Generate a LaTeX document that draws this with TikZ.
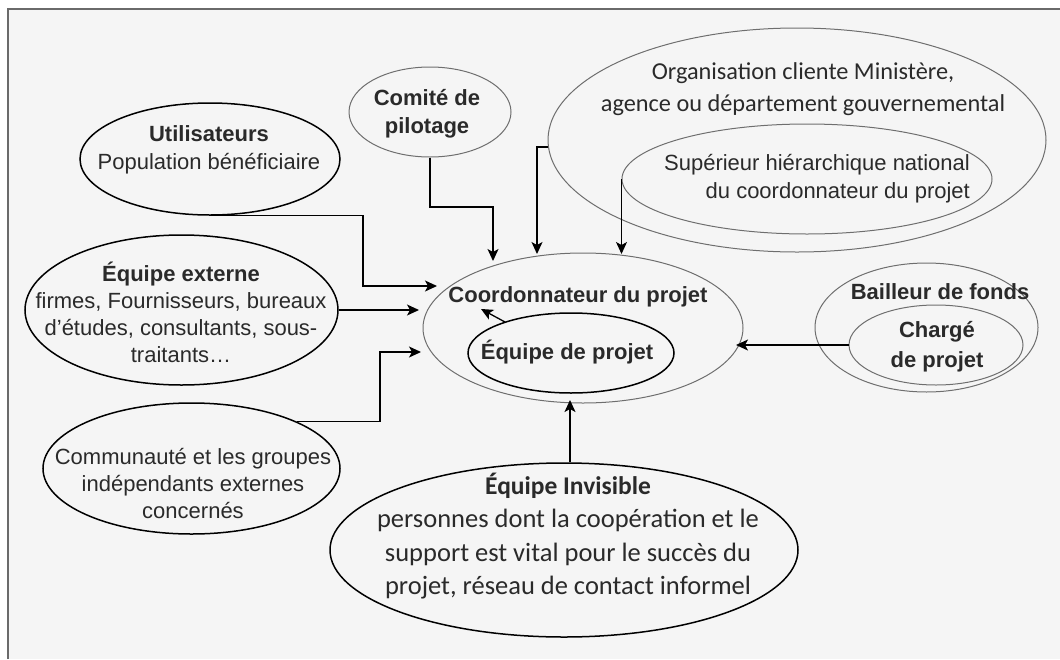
\documentclass[tikz,border=0pt]{standalone}
\usepackage{fontspec}
\setmainfont{Liberation Sans}
\newfontfamily\calib{Carlito}
\usetikzlibrary{shapes.geometric,arrows.meta,calc}
\definecolor{pagebg}{HTML}{F5F5F5}
\definecolor{framec}{HTML}{6A6A6A}
\definecolor{thinring}{HTML}{6E6E6E}
\definecolor{txtc}{HTML}{2A2A2A}
\begin{document}
\begin{tikzpicture}[x=1pt,y=-1pt,
  ringthin/.style={ellipse, draw=thinring, line width=1pt, inner sep=0pt},
  ringbold/.style={ellipse, draw=black, line width=1.5pt, inner sep=0pt},
  lbl/.style={align=center, inner sep=0pt, text=txtc, font=\fontsize{22}{28}\selectfont},
  lblc/.style={align=center, inner sep=0pt, text=txtc, font=\calib\fontsize{24.3}{32.5}\selectfont},
  arr/.style={draw=black, line width=1.3pt, -{Stealth[length=12pt,width=11pt,inset=3pt]}}]

% page, background and frame
\useasboundingbox (0,0) rectangle (1060,659);
\fill[white] (0,0) rectangle (1060,659);
\fill[pagebg] (8,9) rectangle (1060,659);
\draw[framec, line width=1.5pt] (8,659) -- (8,9) -- (1060,9);

% rings
\node[ringthin, minimum width=498pt, minimum height=224pt] (org) at (797,140) {};
\node[ringthin, minimum width=370pt, minimum height=110pt] (sup) at (807,179) {};
\node[ringthin, minimum width=162pt, minimum height=90pt] (com) at (430,112) {};
\node[ringbold, minimum width=260pt, minimum height=112pt] (uti) at (210,159) {};
\node[ringbold, minimum width=313pt, minimum height=150pt] (ext) at (181.5,310) {};
\node[ringbold, minimum width=297pt, minimum height=131pt] (comm) at (191.5,468.5) {};
\node[ringthin, minimum width=320pt, minimum height=150pt] (coord) at (583,328) {};
\node[ringbold, minimum width=206pt, minimum height=80pt] (equipe) at (571,353) {};
\node[ringthin, minimum width=223pt, minimum height=129pt] (bail) at (926.5,327.5) {};
\node[ringthin, minimum width=174pt, minimum height=80pt] (chg) at (936,345) {};
\node[ringbold, minimum width=468pt, minimum height=174pt] (inv) at (564,550) {};

% texts
\node[lbl] (utiT) at (209,150) {\textbf{Utilisateurs}\\Population bénéficiaire};
\node[lbl] (comT) at (427,114) {\textbf{Comité de}\\\textbf{pilotage}};
\node[lblc] (orgT) at (803,89) {Organisation cliente Ministère,\\agence ou département gouvernemental};
\node[lbl, align=right] (supT) at (817,179) {Supérieur hiérarchique national\\du coordonnateur du projet};
\node[lbl, font=\fontsize{22}{27}\selectfont] (extT) at (181,312) {\textbf{Équipe externe}\\firmes, Fournisseurs, bureaux\\d’études, consultants, sous-\\traitants…};
\node[lbl, font=\fontsize{22}{27}\selectfont] (commT) at (193,483.5) {Communauté et les groupes\\indépendants externes\\concernés};
\node[lbl] (coordT) at (578,297) {\textbf{Coordonnateur du projet}};
\node[lbl] (equipeT) at (567,352) {\textbf{Équipe de projet}};
\node[lbl] (bailT) at (940,292) {\textbf{Bailleur de fonds}};
\node[lbl, font=\fontsize{22}{30}\selectfont] (chgT) at (937,347) {\textbf{Chargé}\\\textbf{de projet}};
\node[lblc, font=\calib\fontsize{26.5}{33.5}\selectfont] (invT) at (568,536) {{\fontsize{25.5}{33.5}\selectfont\textbf{Équipe Invisible}}\\personnes dont la coopération et le\\support est vital pour le succès du\\projet, réseau de contact informel};

% connectors into the coordinator
\draw[arr] (uti.south) -| ($(coord.center)+(-220,-42)$) -- ($(coord.center)+(-146,-42)$);
\draw[arr] (com.south) |- ($(coord.center)+(-90,-121)$) -- ($(coord.center)+(-90,-67)$);
\draw[arr] ($(org.west)+(0,7)$) -| ($(coord.center)+(-46,-74)$);
\draw[arr] (sup.west) -- (sup.west |- {$(coord.center)+(40,-74)$});
\draw[arr] (ext.east) -- (ext.east -| {$(coord.center)+(-164,-16)$});
\draw[arr] (comm.north east) -| ($(coord.center)+(-203,24)$) -- ($(coord.center)+(-162,24)$);
\draw[arr] ($(inv.north)+(6,0)$) -- ($(coord.center)+(-13,72)$);
\draw[arr] (chg.west) -- (chg.west -| {$(coord.center)+(153,17)$});
\draw[arr] ($(equipe.center)+(-66,-31)$) -- ($(equipe.center)+(-90,-44)$);
\end{tikzpicture}
\end{document}
